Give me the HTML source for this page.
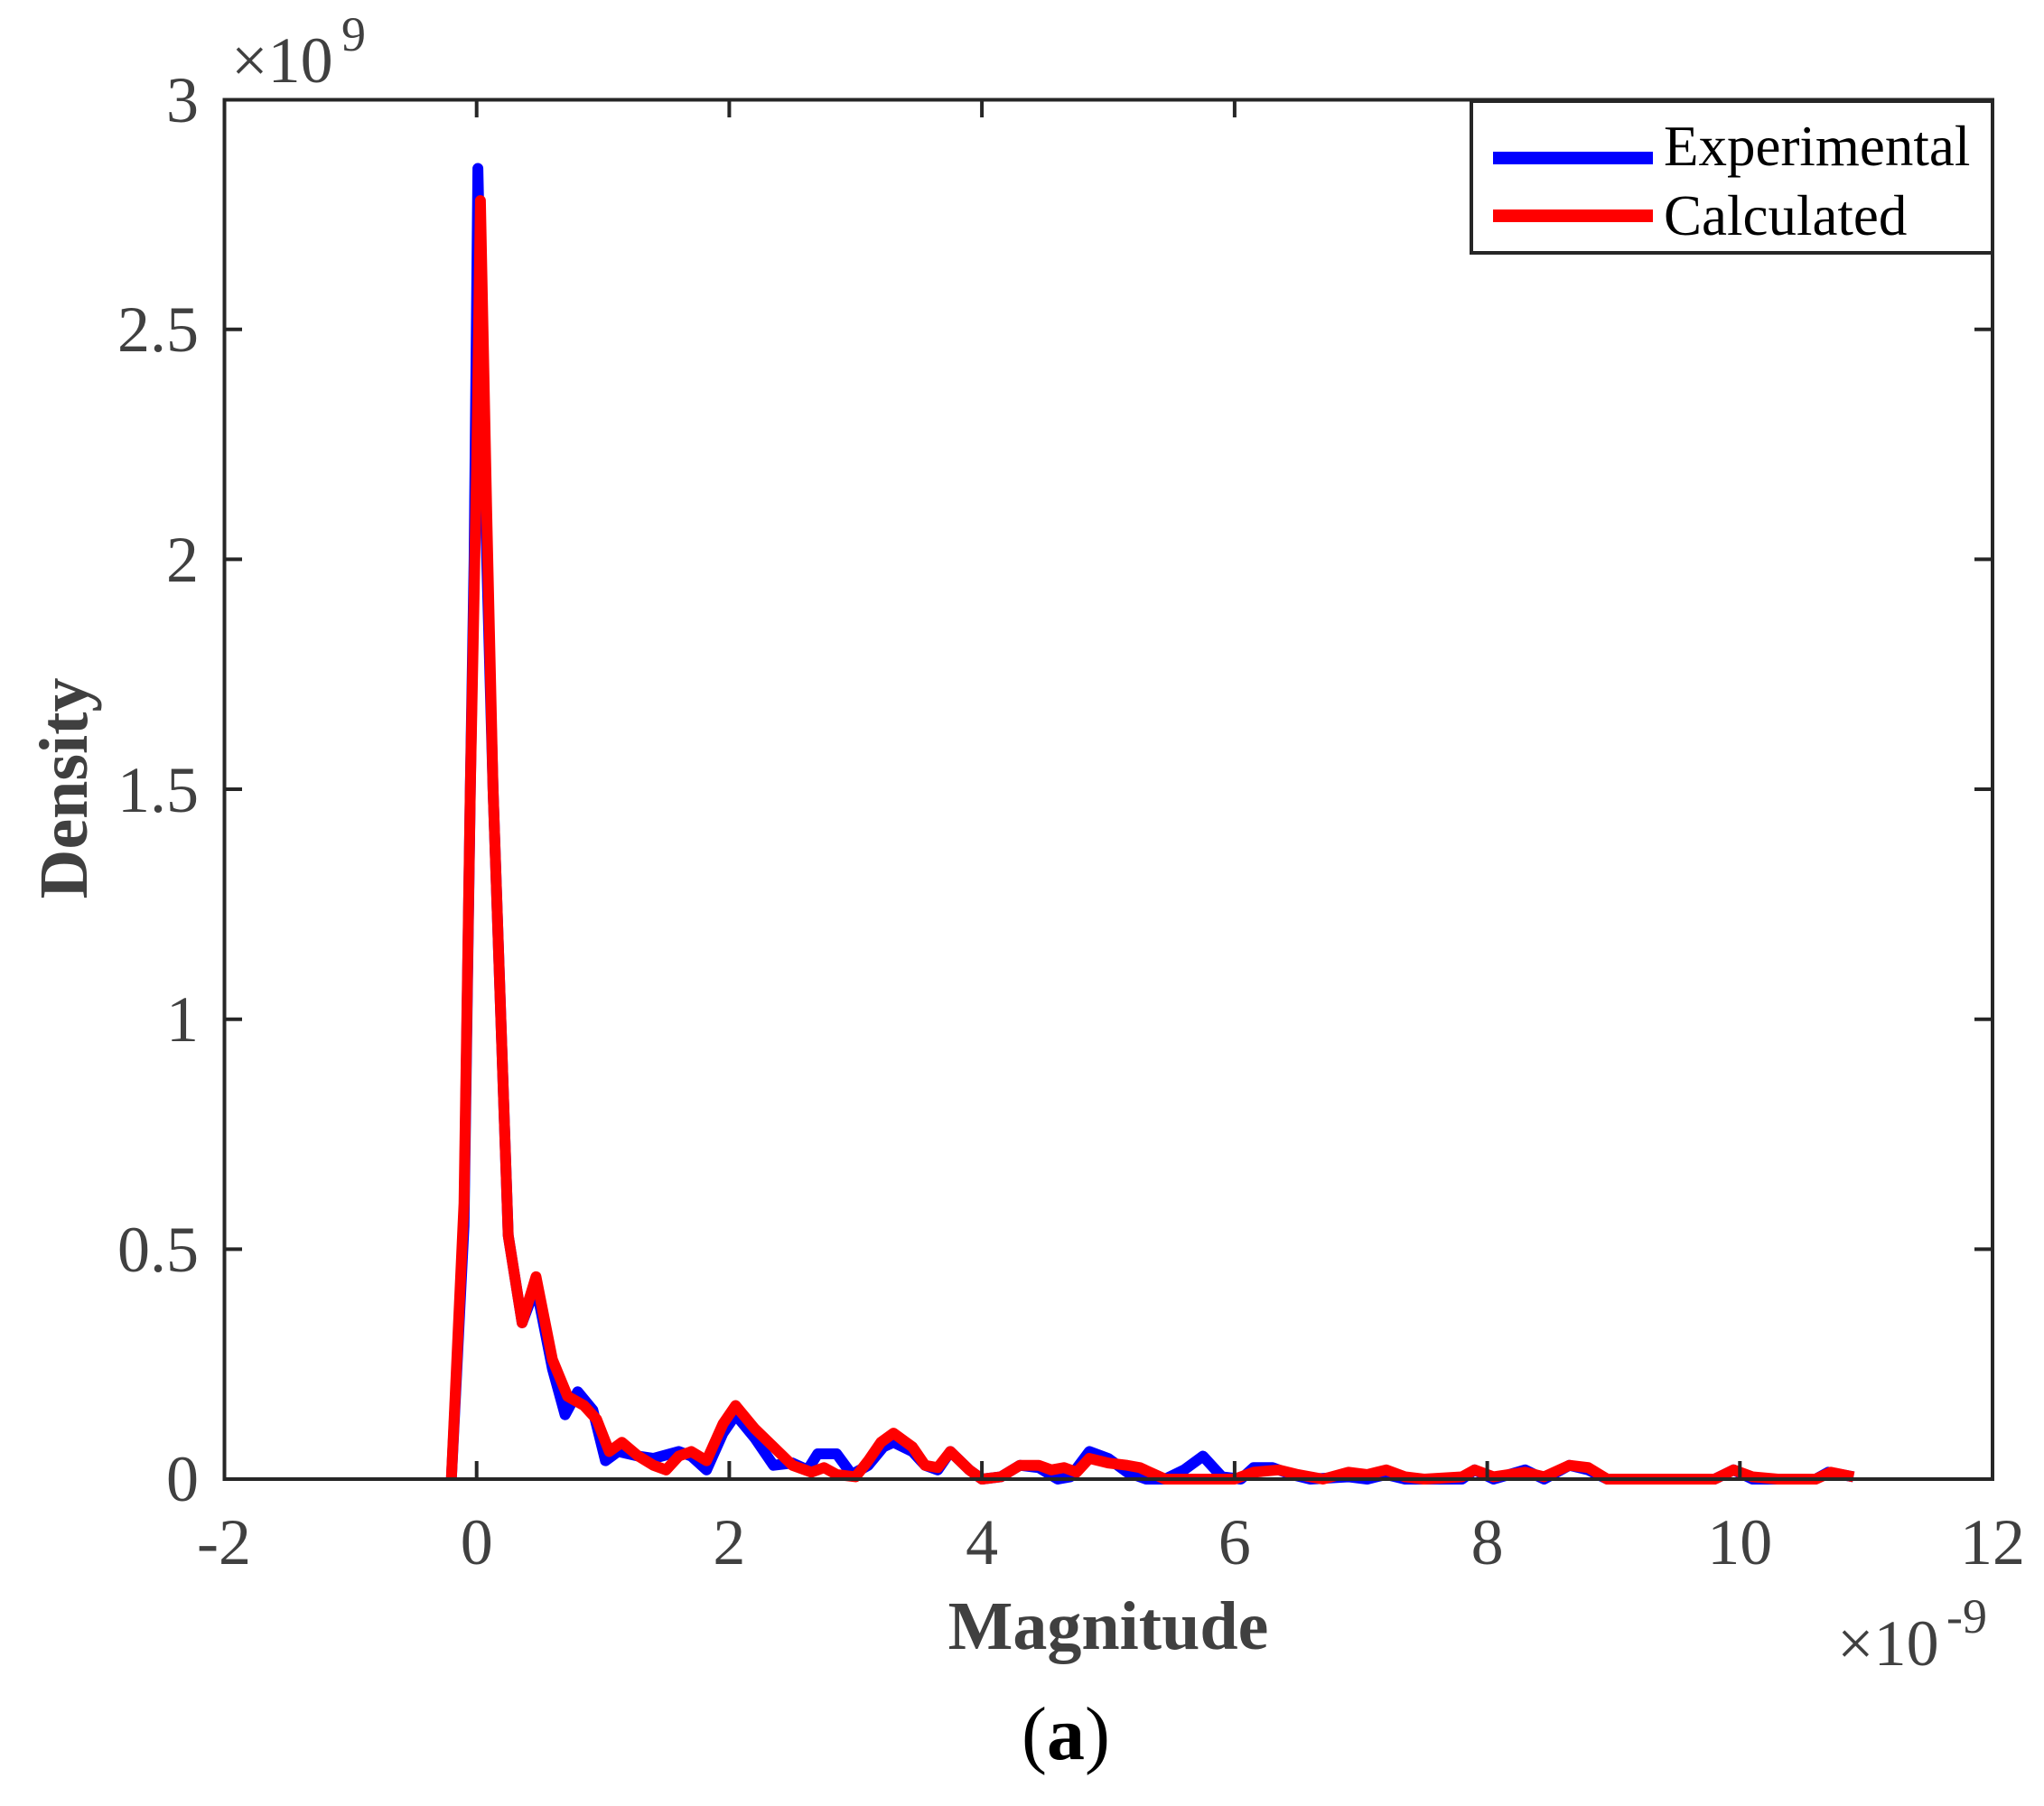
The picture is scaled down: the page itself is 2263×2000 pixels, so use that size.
<!DOCTYPE html>
<html><head><meta charset="utf-8"><style>
html,body{margin:0;padding:0;background:#fff;}
svg{display:block;}
text{font-family:"Liberation Serif",serif;}
</style></head><body>
<svg width="2263" height="2000" viewBox="0 0 2263 2000" xmlns="http://www.w3.org/2000/svg">
<rect width="2263" height="2000" fill="#fff"/>
<g transform="translate(527.7,1638) scale(139.86,-509.3)" fill="none" stroke-linejoin="round" stroke-linecap="butt">
<polyline vector-effect="non-scaling-stroke" stroke="#0000ff" stroke-width="12" points="-0.2,0 -0.1,0.55 -0.05,1.5 -0.02,2.0 0.01,2.85 0.06,2.2 0.13,1.5 0.25,0.53 0.36,0.34 0.47,0.42 0.6,0.24 0.7,0.14 0.8,0.19 0.92,0.15 1.02,0.04 1.12,0.06 1.28,0.05 1.4,0.045 1.6,0.06 1.7,0.05 1.82,0.02 1.95,0.1 2.05,0.14 2.2,0.09 2.35,0.03 2.5,0.035 2.62,0.02 2.7,0.055 2.85,0.055 2.97,0.01 3.1,0.03 3.22,0.07 3.3,0.08 3.45,0.06 3.55,0.03 3.65,0.02 3.75,0.06 3.9,0.02 4.0,0 4.15,0.005 4.3,0.03 4.45,0.025 4.6,0 4.7,0.005 4.85,0.06 5.0,0.045 5.15,0.015 5.3,0 5.45,0 5.6,0.02 5.75,0.05 5.9,0.005 6.05,0 6.15,0.025 6.3,0.025 6.45,0.01 6.6,0 6.9,0.005 7.05,0 7.2,0.01 7.35,0 7.8,0 7.9,0.02 8.05,0 8.3,0.02 8.45,0 8.65,0.03 8.8,0.02 8.95,0 9.8,0 9.95,0.02 10.1,0 10.6,0 10.7,0.015 10.9,0.005"/>
<polyline vector-effect="non-scaling-stroke" stroke="#ff0000" stroke-width="12" points="-0.2,0 -0.1,0.6 -0.05,1.5 0,2.2 0.03,2.78 0.08,2.1 0.13,1.5 0.25,0.53 0.36,0.34 0.47,0.44 0.6,0.26 0.72,0.18 0.85,0.16 0.95,0.13 1.05,0.06 1.15,0.08 1.28,0.05 1.4,0.03 1.5,0.02 1.6,0.05 1.7,0.06 1.82,0.04 1.95,0.12 2.05,0.16 2.2,0.11 2.35,0.07 2.5,0.03 2.65,0.015 2.75,0.025 2.85,0.01 3.0,0.005 3.1,0.04 3.2,0.08 3.3,0.1 3.45,0.07 3.55,0.03 3.65,0.025 3.75,0.06 3.9,0.02 4.0,0 4.15,0.005 4.3,0.03 4.45,0.03 4.55,0.02 4.65,0.025 4.75,0.015 4.85,0.045 5.0,0.035 5.15,0.03 5.25,0.025 5.45,0 6.0,0 6.15,0.015 6.35,0.02 6.5,0.01 6.7,0 6.9,0.015 7.05,0.01 7.2,0.02 7.35,0.005 7.5,0 7.8,0.005 7.9,0.02 8.05,0.005 8.3,0.015 8.45,0.005 8.65,0.03 8.8,0.025 8.95,0 9.8,0 9.95,0.02 10.1,0.005 10.3,0 10.6,0 10.72,0.015 10.9,0.005"/>
</g>
<rect x="248.5" y="110.5" width="1957.5" height="1527.5" fill="none" stroke="#262626" stroke-width="4"/>
<g stroke="#262626" stroke-width="4">
<path d="M527.7,1638v-20M807.4,1638v-20M1087.1,1638v-20M1366.9,1638v-20M1646.6,1638v-20M1926.3,1638v-20
M527.7,110v20M807.4,110v20M1087.1,110v20M1366.9,110v20M1646.6,110v20M1926.3,110v20"/>
<path d="M248,1383.4h20M248,1128.7h20M248,874h20M248,619.4h20M248,364.7h20
M2206,1383.4h-20M2206,1128.7h-20M2206,874h-20M2206,619.4h-20M2206,364.7h-20"/>
</g>
<g fill="#404040" font-size="72">
<g text-anchor="middle">
<text x="248" y="1732">-2</text>
<text x="527.7" y="1732">0</text>
<text x="807.4" y="1732">2</text>
<text x="1087.1" y="1732">4</text>
<text x="1366.9" y="1732">6</text>
<text x="1646.6" y="1732">8</text>
<text x="1926.3" y="1732">10</text>
<text x="2206" y="1732">12</text>
</g>
<g text-anchor="end">
<text x="220" y="1662">0</text>
<text x="220" y="1408">0.5</text>
<text x="220" y="1153">1</text>
<text x="220" y="899">1.5</text>
<text x="220" y="644">2</text>
<text x="220" y="389">2.5</text>
<text x="220" y="135">3</text>
</g>
<text x="256" y="91">×10</text>
<text x="378" y="56" font-size="54">9</text>
<text x="2034" y="1844">×10</text>
<text x="2155" y="1808" font-size="54">-9</text>
</g>
<text x="1227" y="1826" text-anchor="middle" font-size="76" font-weight="bold" fill="#404040">Magnitude</text>
<text transform="translate(96,873) rotate(-90)" text-anchor="middle" font-size="76" font-weight="bold" fill="#404040">Density</text>
<text x="1180" y="1948" text-anchor="middle" font-size="84" fill="#000">(<tspan font-weight="bold">a</tspan>)</text>
<rect x="1629" y="112" width="577" height="168" fill="#fff" stroke="#262626" stroke-width="4"/>
<line x1="1653" y1="175" x2="1830" y2="175" stroke="#0000ff" stroke-width="14"/>
<line x1="1653" y1="239" x2="1830" y2="239" stroke="#ff0000" stroke-width="14"/>
<text x="1842" y="183" font-size="63" fill="#000">Experimental</text>
<text x="1842" y="260" font-size="63" fill="#000">Calculated</text>
</svg>
</body></html>
